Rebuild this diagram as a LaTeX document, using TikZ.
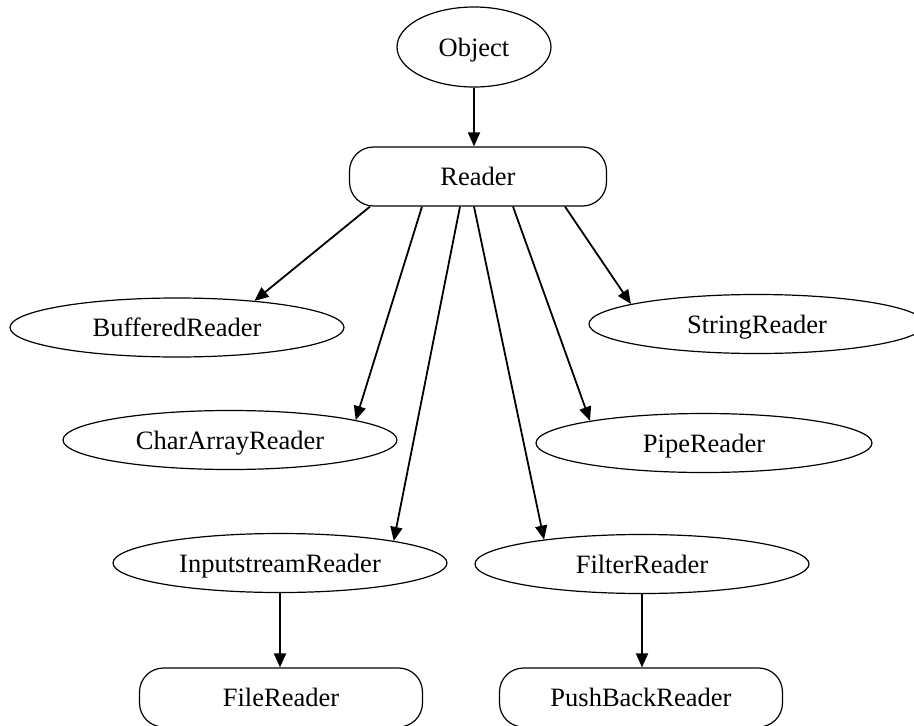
\documentclass[tikz,border=0pt]{standalone}
\usepackage{fontspec}
\setmainfont{Liberation Serif}
\usetikzlibrary{shapes.geometric,arrows.meta}
\begin{document}
\begin{tikzpicture}[x=1pt,y=-1pt,
    cls/.style={draw,ellipse,line width=1.2pt,inner sep=0pt,minimum width=334pt,minimum height=59pt,
      font=\fontsize{26.5}{30}\selectfont,text height=18pt,text depth=0pt},
    base/.style={cls,rectangle,rounded corners=24pt},
    ext/.style={-{Triangle[length=14pt,width=12pt]},line width=1.8pt}]
    \useasboundingbox (0,0) rectangle (914,726);
    \clip (0,0) rectangle (914,726);
    \node[cls,minimum width=154pt,minimum height=80pt] (object) at (474,47) {Object};
    \node[base,minimum width=257pt] (reader) at (478,176.5) {Reader};
    \node[cls] (buffered) at (177,327.5) {BufferedReader};
    \node[cls] (chararray) at (230,440) {CharArrayReader};
    \node[cls,minimum width=336pt] (string) at (757,324) {StringReader};
    \node[cls,minimum width=336pt] (pipe) at (704,443) {PipeReader};
    \node[cls] (inputstream) at (280,563) {InputstreamReader};
    \node[cls] (filter) at (642,564) {FilterReader};
    \node[base,minimum width=283pt] (file) at (281,697.5) {FileReader};
    \node[base,minimum width=283pt] (pushback) at (641,697.5) {PushBackReader};
    \draw[ext] (object) -- (object |- reader.north);
    \draw[ext] ([xshift=-108pt]reader.south) -- (buffered.19);
    \draw[ext] ([xshift=-56pt]reader.south) -- (chararray.9);
    \draw[ext] ([xshift=-18pt]reader.south) -- (inputstream.11);
    \draw[ext] ([xshift=-4pt]reader.south) -- (filter.166);
    \draw[ext] ([xshift=35pt]reader.south) -- (pipe.169);
    \draw[ext] ([xshift=87pt]reader.south) -- (string.171);
    \draw[ext] (inputstream) -- (inputstream |- file.north);
    \draw[ext] (filter) -- (filter |- pushback.north);
\end{tikzpicture}
\end{document}
